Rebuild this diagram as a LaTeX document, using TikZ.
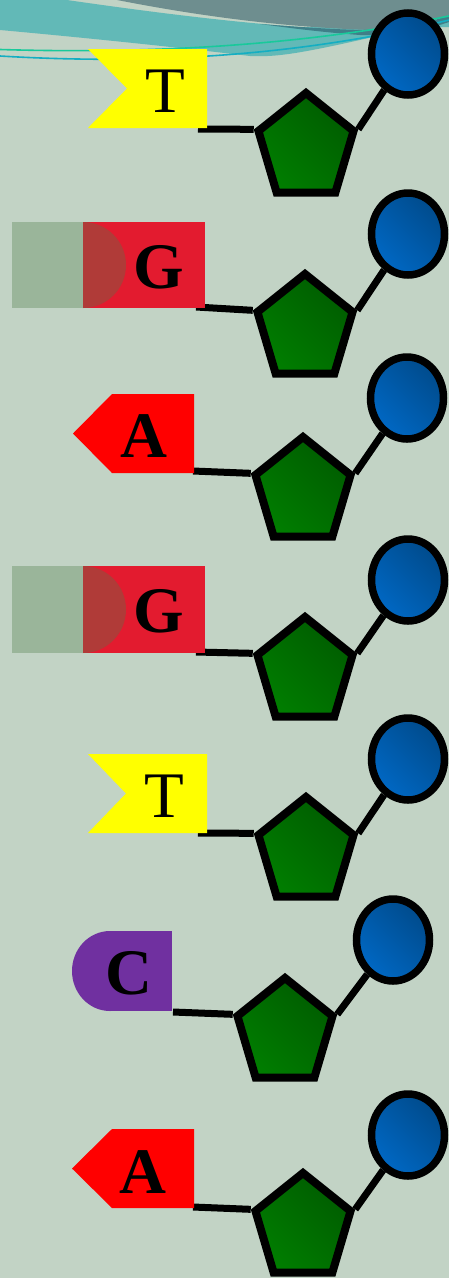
\documentclass[tikz,border=0pt]{standalone}
\usepackage{fontspec}
\setmainfont{Liberation Serif}
\usetikzlibrary{shapes.geometric}

\definecolor{paper}{HTML}{C2D3C5}
\definecolor{bandteal}{HTML}{62B9B7}
\definecolor{bandgray}{HTML}{6E8E8F}
\definecolor{banddark}{HTML}{3F7F88}
\definecolor{linegreen}{HTML}{19C99B}
\definecolor{lineblue}{HTML}{14AEC2}
\definecolor{tyellow}{HTML}{FFFF00}
\definecolor{gred}{HTML}{E31B2F}
\definecolor{gdark}{HTML}{B03B38}
\definecolor{ggray}{HTML}{9AB59A}
\definecolor{ared}{HTML}{FF0000}
\definecolor{cpurple}{HTML}{7030A0}
\definecolor{sugarlight}{HTML}{007D00}
\definecolor{sugardark}{HTML}{005C00}
\definecolor{phoslight}{HTML}{0068C4}
\definecolor{phosdark}{HTML}{004B8C}

\begin{document}
\begin{tikzpicture}[x=1pt, y=-1pt,
	sugar/.style={regular polygon, regular polygon sides=5, minimum size=100pt, inner sep=0pt,
		draw=black, line width=8pt, left color=sugarlight, right color=sugardark, shading angle=135,
		transform shape},
	tall/.style={yscale=1.1},
	phos/.style={ellipse, minimum width=73pt, minimum height=82pt, inner sep=0pt,
		draw=black, line width=7.5pt, left color=phoslight, right color=phosdark, shading angle=135},
	bond/.style={line width=7pt},
	letter/.style={anchor=base, inner sep=0pt, font=\fontsize{65}{65}\selectfont},
	bold letter/.style={letter, font=\fontsize{65}{65}\selectfont\bfseries}]
\useasboundingbox (0,0) rectangle (449,1278);

% draw background and the bands on top
	\fill[paper] (0,0) rectangle (449,1278);
	\fill[bandteal] (0,0) -- (67,0) .. controls (150,12) and (230,22) .. (300,27)
		-- (449,27) -- (449,19) .. controls (300,55) and (280,57) .. (250,56)
		.. controls (200,50) and (110,40) .. (0,30) -- cycle;
	\fill[bandgray] (117,0) -- (449,0) -- (449,15) .. controls (420,26) and (400,30) .. (370,30)
		.. controls (320,28) and (240,24) .. (117,0) -- cycle;
	\fill[banddark] (260,24) .. controls (300,27) and (340,30) .. (370,30)
		.. controls (400,30) and (420,26) .. (449,15) -- (449,22)
		.. controls (420,32) and (390,36) .. (360,35) .. controls (320,32) and (290,28) .. (260,24) -- cycle;
	\draw[linegreen, line width=1.6pt] (0,49.5) .. controls (150,54) and (300,46) .. (449,16);
	\draw[lineblue, line width=1.6pt] (0,56) .. controls (150,65) and (300,56) .. (449,20);

% nucleotide 1, T
	\begin{scope}[shift={(306,148)}, tall] \node[sugar] (s1) {}; \end{scope}
	\node[phos] (p1) at (408,54) {};
	\coordinate (b1) at (198,129);
	\draw[bond] (b1) -- (s1.corner 2);
	\draw[bond] (s1.corner 5) -- (p1);
	\fill[tyellow] (88,49) -- (207,49) -- (207,128) -- (88,128) -- (127,88.5) -- cycle;
	\node[letter] (t1) at (165,112) {T};

% nucleotide 2, G
	\begin{scope}[shift={(305,329)}, tall] \node[sugar] (s2) {}; \end{scope}
	\node[phos] (p2) at (408,234) {};
	\coordinate (b2) at (196,307);
	\draw[bond] (b2) -- (s2.corner 2);
	\draw[bond] (s2.corner 5) -- (p2);
	\fill[gred] (83,222) rectangle (205,308);
	\fill[gdark] (83,265) ellipse [x radius=43, y radius=43];
	\fill[ggray] (12,222) rectangle (83,308);
	\node[bold letter] (g2) at (159,288) {G};

% nucleotide 3, A
	\begin{scope}[shift={(303,492)}, tall] \node[sugar] (s3) {}; \end{scope}
	\node[phos] (p3) at (407,398) {};
	\coordinate (b3) at (193,471);
	\draw[bond] (b3) -- (s3.corner 2);
	\draw[bond] (s3.corner 5) -- (p3);
	\fill[ared] (73,433.5) -- (112,394) -- (194,394) -- (194,473) -- (112,473) -- cycle;
	\node[bold letter] (a3) at (143.5,457) {A};

% nucleotide 4, G
	\begin{scope}[shift={(305,672)}, tall] \node[sugar] (s4) {}; \end{scope}
	\node[phos] (p4) at (408,580) {};
	\coordinate (b4) at (196,652);
	\draw[bond] (b4) -- (s4.corner 2);
	\draw[bond] (s4.corner 5) -- (p4);
	\fill[gred] (83,566) rectangle (205,653);
	\fill[gdark] (83,609.5) ellipse [x radius=43, y radius=43.5];
	\fill[ggray] (12,566) rectangle (83,653);
	\node[bold letter] (g4) at (159,632) {G};

% nucleotide 5, T
	\begin{scope}[shift={(306,852)}, tall] \node[sugar] (s5) {}; \end{scope}
	\node[phos] (p5) at (408,759) {};
	\coordinate (b5) at (198,833);
	\draw[bond] (b5) -- (s5.corner 2);
	\draw[bond] (s5.corner 5) -- (p5);
	\fill[tyellow] (88,754) -- (207,754) -- (207,833) -- (88,833) -- (126,793.5) -- cycle;
	\node[letter] (t5) at (164,817) {T};

% nucleotide 6, C
	\begin{scope}[shift={(285,1033)}, tall] \node[sugar] (s6) {}; \end{scope}
	\node[phos] (p6) at (393,940) {};
	\coordinate (b6) at (173,1012);
	\draw[bond] (b6) -- (s6.corner 2);
	\draw[bond] (s6.corner 5) -- (p6);
	\fill[cpurple] (110,971) ellipse [x radius=38, y radius=40];
	\fill[cpurple] (110,931) rectangle (172,1011);
	\node[bold letter] (c6) at (129,994) {C};

% nucleotide 7, A
	\begin{scope}[shift={(303,1228)}, tall] \node[sugar] (s7) {}; \end{scope}
	\node[phos] (p7) at (408,1135) {};
	\coordinate (b7) at (193,1207);
	\draw[bond] (b7) -- (s7.corner 2);
	\draw[bond] (s7.corner 5) -- (p7);
	\fill[ared] (72,1168.5) -- (112,1129) -- (194,1129) -- (194,1208) -- (112,1208) -- cycle;
	\node[bold letter] (a7) at (143,1193) {A};

\end{tikzpicture}
\end{document}
